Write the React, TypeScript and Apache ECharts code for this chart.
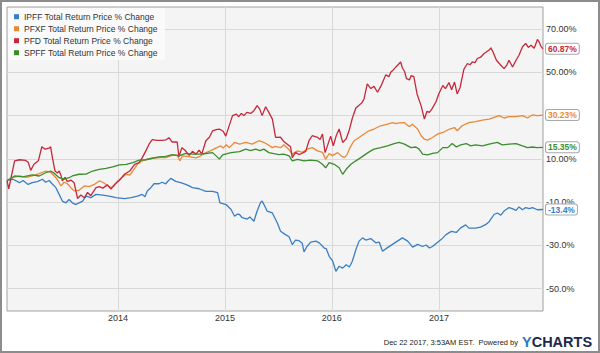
import React, { useEffect, useRef } from "react";
import * as echarts from "echarts";

const seriesNames = [
  "IPFF Total Return Price % Change",
  "PFXF Total Return Price % Change",
  "PFD Total Return Price % Change",
  "SPFF Total Return Price % Change",
];
const seriesColors = ["#3a7ec4", "#ea8935", "#c6283a", "#3b8c2c"];
const endLabels = ["-13.4%", "30.23%", "60.87%", "15.35%"];

const yTicks = [70, 50, 30, 10, -10, -30, -50];
const yTickLabels = ["70.00%", "50.00%", "", "10.00%", "-10.0%", "-30.0%", "-50.0%"];
const yearTicks = ["2014-01-01", "2015-01-01", "2016-01-01", "2017-01-01"];
const yearLabels = ["2014", "2015", "2016", "2017"];
const dateStart = "2012-12-18";
const dateEnd = "2017-12-22";

const ipffData: [string, number][] = [
  ["2012-12-18", 0], ["2013-01-07", 0.6], ["2013-01-30", -1.0], ["2013-02-11", 0.0], ["2013-02-28", -1.8],
  ["2013-03-14", -1.0], ["2013-04-01", -0.5], ["2013-04-18", 0.6], ["2013-04-29", -0.8], ["2013-05-11", 0.0],
  ["2013-05-21", -1.5], ["2013-06-03", -3.3], ["2013-06-14", -6.4], ["2013-06-25", -9.5], ["2013-07-07", -10.3],
  ["2013-07-18", -8.8], ["2013-07-29", -10.3], ["2013-08-10", -11.1], ["2013-08-21", -10.3], ["2013-09-02", -9.5],
  ["2013-09-14", -7.2], ["2013-09-30", -7.9], ["2013-10-18", -6.4], ["2013-11-10", -6.7], ["2013-12-02", -7.2],
  ["2013-12-25", -7.9], ["2014-01-23", -8.4], ["2014-02-15", -7.9], ["2014-03-08", -7.2], ["2014-03-25", -6.4],
  ["2014-04-03", -7.5], ["2014-04-11", -4.8], ["2014-04-23", -3.3], ["2014-05-04", -1.5], ["2014-05-21", -1.5],
  ["2014-05-31", -0.8], ["2014-06-13", -1.5], ["2014-06-21", -0.2], ["2014-06-30", 1.0], ["2014-07-17", -0.4],
  ["2014-08-03", -1.0], ["2014-08-20", -1.8], ["2014-09-01", -2.5], ["2014-09-12", -3.3], ["2014-10-05", -3.8],
  ["2014-10-28", -5.0], ["2014-11-09", -5.0], ["2014-11-20", -5.0], ["2014-12-07", -5.6], ["2014-12-15", -10.3],
  ["2015-01-05", -11.1], ["2015-01-22", -13.4], ["2015-02-03", -16.5], ["2015-02-13", -15.5], ["2015-02-20", -15.7],
  ["2015-03-01", -17.2], ["2015-03-18", -17.8], ["2015-03-27", -16.8], ["2015-04-10", -18.8], ["2015-04-21", -14.1],
  ["2015-05-03", -10.0], ["2015-05-08", -9.5], ["2015-05-14", -11.0], ["2015-05-25", -14.1], ["2015-06-12", -15.0],
  ["2015-06-29", -19.6], ["2015-07-10", -23.4], ["2015-07-27", -25.0], ["2015-08-08", -26.0], ["2015-08-19", -29.6],
  ["2015-08-30", -27.5], ["2015-09-11", -27.8], ["2015-09-22", -29.0], ["2015-09-28", -33.0], ["2015-10-08", -30.5],
  ["2015-10-21", -28.5], ["2015-11-08", -28.0], ["2015-11-19", -28.8], ["2015-12-06", -31.2], ["2015-12-13", -31.5],
  ["2015-12-23", -35.0], ["2016-01-04", -37.3], ["2016-01-15", -42.0], ["2016-01-26", -39.6], ["2016-02-07", -40.5],
  ["2016-02-19", -38.9], ["2016-03-01", -40.0], ["2016-03-11", -37.3], ["2016-03-23", -32.0], ["2016-04-03", -28.0],
  ["2016-04-15", -26.5], ["2016-04-26", -27.5], ["2016-05-13", -26.8], ["2016-05-30", -28.8], ["2016-06-11", -28.5],
  ["2016-06-22", -32.7], ["2016-07-09", -31.0], ["2016-07-26", -29.5], ["2016-08-12", -28.0], ["2016-08-29", -26.5],
  ["2016-09-16", -28.0], ["2016-10-03", -30.8], ["2016-10-20", -29.5], ["2016-11-06", -30.5], ["2016-11-18", -29.8],
  ["2016-11-29", -31.2], ["2016-12-10", -30.5], ["2016-12-23", -29.0], ["2017-01-08", -27.3], ["2017-01-25", -25.0],
  ["2017-02-12", -23.5], ["2017-03-01", -24.0], ["2017-03-16", -21.9], ["2017-04-02", -20.5], ["2017-04-13", -22.0],
  ["2017-05-06", -22.0], ["2017-05-23", -21.5], ["2017-06-10", -20.3], ["2017-06-21", -19.0], ["2017-07-08", -15.7],
  ["2017-07-19", -15.0], ["2017-07-31", -16.0], ["2017-08-11", -14.1], ["2017-08-28", -12.5], ["2017-09-08", -13.0],
  ["2017-09-21", -13.8], ["2017-10-01", -12.2], ["2017-10-13", -13.5], ["2017-10-24", -12.5], ["2017-11-05", -13.0],
  ["2017-11-16", -12.5], ["2017-12-03", -13.5], ["2017-12-22", -13.4],
];

const pfxfData: [string, number][] = [
  ["2012-12-18", 0], ["2013-01-07", 1.3], ["2013-01-30", 2.1], ["2013-02-22", 1.5], ["2013-03-14", 2.1],
  ["2013-04-07", 3.2], ["2013-04-29", 4.4], ["2013-05-16", 3.8], ["2013-06-03", 1.3], ["2013-06-14", -1.0],
  ["2013-06-20", -2.5], ["2013-07-01", -0.8], ["2013-07-12", -1.5], ["2013-07-24", -3.3], ["2013-08-04", -4.8],
  ["2013-08-21", -4.5], ["2013-09-08", -2.5], ["2013-09-25", -2.8], ["2013-10-12", -1.8], ["2013-10-29", -0.2],
  ["2013-11-10", -0.8], ["2013-11-21", -1.8], ["2013-12-08", -3.3], ["2013-12-19", -2.5], ["2013-12-31", -0.2],
  ["2014-01-15", 1.5], ["2014-01-29", 2.9], ["2014-02-10", 2.5], ["2014-02-21", 4.4], ["2014-03-08", 7.5],
  ["2014-03-25", 9.1], ["2014-04-10", 9.8], ["2014-04-28", 10.3], ["2014-05-21", 10.6], ["2014-06-13", 10.6],
  ["2014-07-05", 11.6], ["2014-07-22", 11.8], ["2014-07-31", 9.1], ["2014-08-09", 11.4], ["2014-09-01", 11.0],
  ["2014-09-24", 10.5], ["2014-10-05", 11.0], ["2014-10-28", 12.9], ["2014-11-14", 13.8], ["2014-12-01", 15.0],
  ["2014-12-18", 16.0], ["2014-12-26", 15.0], ["2015-01-05", 16.5], ["2015-01-16", 15.2], ["2015-02-03", 17.6],
  ["2015-02-20", 16.8], ["2015-03-13", 17.6], ["2015-04-04", 16.8], ["2015-04-27", 18.4], ["2015-05-14", 17.6],
  ["2015-05-25", 16.8], ["2015-06-12", 15.2], ["2015-06-21", 15.8], ["2015-07-10", 15.2], ["2015-07-21", 16.5],
  ["2015-08-08", 14.2], ["2015-08-19", 12.2], ["2015-09-06", 13.7], ["2015-09-22", 13.0], ["2015-10-09", 14.5],
  ["2015-10-26", 15.2], ["2015-11-13", 13.7], ["2015-11-30", 13.0], ["2015-12-11", 9.9], ["2015-12-23", 12.5],
  ["2016-01-03", 11.5], ["2016-01-21", 12.9], ["2016-02-02", 11.4], ["2016-02-13", 10.6], ["2016-02-22", 12.0],
  ["2016-03-03", 15.2], ["2016-03-17", 18.4], ["2016-04-03", 19.9], ["2016-04-20", 21.5], ["2016-05-07", 23.0],
  ["2016-05-24", 23.8], ["2016-06-16", 25.3], ["2016-07-09", 26.1], ["2016-07-26", 26.8], ["2016-08-08", 26.3],
  ["2016-08-18", 26.6], ["2016-09-05", 26.8], ["2016-09-15", 25.5], ["2016-09-22", 25.0], ["2016-10-02", 26.0],
  ["2016-10-20", 23.8], ["2016-11-01", 20.7], ["2016-11-12", 19.1], ["2016-11-23", 18.7], ["2016-12-10", 19.9],
  ["2016-12-27", 21.5], ["2017-01-14", 22.2], ["2017-02-06", 23.8], ["2017-02-23", 24.5], ["2017-03-04", 23.0],
  ["2017-03-21", 25.3], ["2017-04-13", 26.8], ["2017-05-06", 27.2], ["2017-05-29", 27.9], ["2017-06-21", 28.4],
  ["2017-07-08", 29.2], ["2017-07-25", 30.0], ["2017-08-11", 28.9], ["2017-08-28", 29.5], ["2017-09-21", 29.5],
  ["2017-10-13", 30.0], ["2017-10-30", 28.9], ["2017-11-16", 30.3], ["2017-12-03", 30.0], ["2017-12-22", 30.23],
];

const pfdData: [string, number][] = [
  ["2012-12-18", 0], ["2012-12-24", -3.8], ["2013-01-13", 9.1], ["2013-01-30", 9.6], ["2013-02-20", 9.3],
  ["2013-03-01", 8.3], ["2013-03-09", 4.7], ["2013-03-20", 7.5], ["2013-04-04", 9.1], ["2013-04-16", 15.6],
  ["2013-04-27", 14.5], ["2013-05-11", 15.0], ["2013-05-16", 15.6], ["2013-05-22", 10.6], ["2013-05-31", 4.4],
  ["2013-06-08", 3.5], ["2013-06-14", 4.4], ["2013-06-20", 2.5], ["2013-06-25", -0.2], ["2013-07-04", 1.5],
  ["2013-07-12", -0.5], ["2013-07-24", 0.2], ["2013-08-04", -1.0], ["2013-08-16", -8.3], ["2013-08-27", -6.7],
  ["2013-09-08", -8.0], ["2013-09-19", -5.5], ["2013-09-30", -7.0], ["2013-10-18", -3.3], ["2013-10-29", -2.8],
  ["2013-11-10", -3.5], ["2013-11-26", -2.0], ["2013-12-08", -4.0], ["2013-12-19", -2.0], ["2014-01-06", 0.1],
  ["2014-01-23", 2.9], ["2014-02-10", 4.4], ["2014-02-27", 7.5], ["2014-03-14", 8.3], ["2014-03-25", 10.6],
  ["2014-04-06", 13.7], ["2014-04-17", 16.8], ["2014-04-28", 18.9], ["2014-05-14", 18.6], ["2014-05-31", 18.6],
  ["2014-06-14", 18.8], ["2014-06-24", 19.8], ["2014-07-05", 17.8], ["2014-07-22", 17.8], ["2014-07-28", 11.0],
  ["2014-08-07", 15.2], ["2014-08-18", 14.0], ["2014-09-01", 11.6], ["2014-09-12", 13.5], ["2014-09-24", 12.2],
  ["2014-10-05", 14.0], ["2014-10-14", 12.2], ["2014-10-28", 18.4], ["2014-11-09", 20.0], ["2014-11-20", 23.0],
  ["2014-12-02", 23.5], ["2014-12-13", 23.8], ["2014-12-26", 22.8], ["2015-01-04", 20.5], ["2015-01-16", 25.5],
  ["2015-01-27", 30.0], ["2015-02-09", 30.7], ["2015-02-17", 29.5], ["2015-02-26", 31.0], ["2015-03-07", 30.0],
  ["2015-03-17", 31.5], ["2015-03-30", 31.0], ["2015-04-10", 32.3], ["2015-04-21", 34.6], ["2015-04-30", 33.0],
  ["2015-05-08", 30.0], ["2015-05-20", 34.1], ["2015-05-31", 31.5], ["2015-06-12", 28.4], ["2015-06-23", 19.9],
  ["2015-07-10", 20.0], ["2015-07-21", 18.0], ["2015-08-02", 16.8], ["2015-08-13", 15.6], ["2015-08-19", 10.6],
  ["2015-08-30", 13.0], ["2015-09-11", 12.0], ["2015-09-22", 12.6], ["2015-10-04", 13.5], ["2015-10-15", 18.4],
  ["2015-10-26", 20.7], ["2015-11-13", 20.0], ["2015-11-22", 19.0], ["2015-11-30", 21.5], ["2015-12-09", 12.9],
  ["2015-12-17", 16.0], ["2015-12-28", 20.5], ["2016-01-06", 16.0], ["2016-01-16", 20.7], ["2016-01-26", 23.8],
  ["2016-02-07", 17.6], ["2016-02-19", 19.3], ["2016-03-01", 23.5], ["2016-03-11", 28.8], ["2016-03-23", 33.5],
  ["2016-04-03", 34.8], ["2016-04-13", 36.0], ["2016-04-20", 37.7], ["2016-05-01", 44.7], ["2016-05-13", 42.5],
  ["2016-05-24", 43.5], ["2016-06-05", 40.8], ["2016-06-16", 43.5], ["2016-07-03", 48.8], ["2016-07-14", 48.0],
  ["2016-07-20", 50.0], ["2016-07-28", 51.0], ["2016-08-07", 52.5], ["2016-08-18", 54.1], ["2016-08-23", 54.8],
  ["2016-08-29", 52.0], ["2016-09-05", 50.5], ["2016-09-12", 47.1], ["2016-09-22", 46.5], ["2016-09-28", 48.5],
  ["2016-10-07", 48.0], ["2016-10-18", 40.0], ["2016-11-01", 34.5], ["2016-11-12", 28.4], ["2016-11-21", 32.0],
  ["2016-11-29", 31.5], ["2016-12-08", 33.1], ["2016-12-22", 36.5], ["2016-12-31", 40.0], ["2017-01-14", 43.9],
  ["2017-01-23", 42.5], ["2017-02-04", 45.3], ["2017-02-13", 42.0], ["2017-02-23", 45.5], ["2017-03-04", 40.0],
  ["2017-03-14", 43.0], ["2017-03-27", 51.5], ["2017-04-08", 54.1], ["2017-04-17", 53.5], ["2017-04-25", 54.8],
  ["2017-05-04", 54.5], ["2017-05-12", 56.4], ["2017-05-23", 57.0], ["2017-06-04", 58.7], ["2017-06-21", 60.3],
  ["2017-06-27", 61.3], ["2017-07-04", 59.5], ["2017-07-16", 55.6], ["2017-07-31", 53.3], ["2017-08-11", 51.7],
  ["2017-08-21", 53.5], ["2017-08-28", 55.6], ["2017-09-09", 52.5], ["2017-09-21", 55.6], ["2017-10-01", 57.9],
  ["2017-10-13", 61.8], ["2017-10-24", 63.4], ["2017-11-02", 61.5], ["2017-11-11", 62.5], ["2017-11-22", 61.1],
  ["2017-12-03", 65.2], ["2017-12-09", 64.0], ["2017-12-15", 62.0], ["2017-12-22", 60.87],
];

const spffData: [string, number][] = [
  ["2012-12-18", 0], ["2013-01-13", 2.1], ["2013-02-10", 1.7], ["2013-03-14", 2.6], ["2013-04-07", 2.1],
  ["2013-04-29", 3.6], ["2013-05-16", 4.4], ["2013-05-28", 3.4], ["2013-06-14", 1.3], ["2013-07-01", 0.6],
  ["2013-07-18", 1.3], ["2013-07-29", 2.1], ["2013-08-21", 2.9], ["2013-09-14", 3.0], ["2013-10-06", 4.4],
  ["2013-10-29", 5.2], ["2013-11-21", 5.6], ["2013-12-14", 6.3], ["2014-01-06", 7.2], ["2014-01-29", 7.5],
  ["2014-02-21", 8.3], ["2014-03-14", 9.4], ["2014-04-06", 9.6], ["2014-04-28", 10.3], ["2014-05-21", 10.9],
  ["2014-06-13", 11.2], ["2014-07-05", 12.0], ["2014-07-28", 11.4], ["2014-08-20", 12.5], ["2014-09-12", 12.2],
  ["2014-10-05", 12.2], ["2014-10-28", 12.5], ["2014-11-20", 12.9], ["2014-12-01", 11.5], ["2014-12-13", 9.9],
  ["2014-12-24", 11.8], ["2015-01-22", 12.9], ["2015-02-20", 13.4], ["2015-03-13", 14.5], ["2015-03-30", 13.8],
  ["2015-04-16", 14.5], ["2015-04-30", 13.8], ["2015-05-14", 14.5], ["2015-05-31", 12.9], ["2015-06-17", 12.4],
  ["2015-07-04", 12.0], ["2015-07-21", 12.2], ["2015-08-08", 11.4], ["2015-08-19", 9.1], ["2015-09-06", 9.8],
  ["2015-09-28", 9.1], ["2015-10-21", 9.4], ["2015-11-13", 9.1], ["2015-11-30", 7.5], ["2015-12-11", 5.9],
  ["2015-12-23", 8.3], ["2016-01-09", 7.5], ["2016-01-26", 5.9], ["2016-02-07", 2.9], ["2016-02-19", 5.2],
  ["2016-03-06", 7.5], ["2016-03-23", 9.1], ["2016-04-09", 10.6], ["2016-04-26", 12.2], ["2016-05-13", 13.7],
  ["2016-05-24", 14.5], ["2016-06-16", 15.2], ["2016-07-09", 16.0], ["2016-08-01", 17.1], ["2016-08-18", 17.6],
  ["2016-09-05", 16.8], ["2016-09-27", 15.2], ["2016-10-14", 15.5], ["2016-10-25", 14.5], ["2016-11-06", 12.2],
  ["2016-11-23", 11.9], ["2016-12-10", 12.5], ["2016-12-27", 12.9], ["2017-01-14", 15.2], ["2017-01-31", 15.2],
  ["2017-02-15", 17.1], ["2017-03-01", 15.5], ["2017-03-16", 16.5], ["2017-04-04", 17.1], ["2017-04-19", 16.0],
  ["2017-05-06", 16.5], ["2017-05-29", 16.0], ["2017-06-21", 16.8], ["2017-07-19", 17.6], ["2017-08-05", 16.5],
  ["2017-08-28", 16.8], ["2017-09-21", 17.1], ["2017-10-13", 16.0], ["2017-10-30", 15.2], ["2017-11-16", 15.5],
  ["2017-12-02", 15.2], ["2017-12-22", 15.35],
];

const seriesData = [ipffData, pfxfData, pfdData, spffData];

const FONT = "'Liberation Sans', Arial, sans-serif";

export default function App() {
  const ref = useRef<HTMLDivElement>(null);

  useEffect(() => {
    if (!ref.current) return;
    const chart = echarts.init(ref.current, null, { renderer: "svg" });
    const t = (s: string) => +echarts.time.parse(s);

    const lineSeries = seriesNames.map((name, i) => ({
      name,
      type: "line",
      data: seriesData[i],
      showSymbol: false,
      symbol: "none",
      z: 5,
      lineStyle: { color: seriesColors[i], width: 1.3 },
      itemStyle: { color: seriesColors[i] },
      endLabel: {
        show: true,
        formatter: endLabels[i],
        distance: 3,
        color: seriesColors[i],
        fontFamily: FONT,
        fontSize: 8.5,
        fontWeight: "bold",
        backgroundColor: "#ffffff",
        borderColor: "#a8a8a8",
        borderWidth: 1,
        borderRadius: 2,
        padding: [1, 2, 0, 2],
      },
    }));

    const gridSeries = {
      name: "__grid",
      type: "line",
      data: [],
      z: 1,
      silent: true,
      markLine: {
        silent: true,
        symbol: "none",
        animation: false,
        lineStyle: { color: "#d9d9d9", width: 1, type: "solid" },
        data: [
          ...yTicks.map((v, i) => ({
            yAxis: v,
            label: {
              show: true,
              position: "end",
              distance: 3,
              formatter: yTickLabels[i],
              color: "#333",
              fontFamily: FONT,
              fontSize: 9,
            },
          })),
          ...yearTicks.map((d, i) => ({
            xAxis: t(d),
            label: {
              show: true,
              position: "start",
              distance: 2,
              formatter: yearLabels[i],
              color: "#333",
              fontFamily: FONT,
              fontSize: 9,
            },
          })),
        ],
      },
    };

    chart.setOption({
      animation: false,
      backgroundColor: "#ffffff",
      grid: {
        left: 7,
        right: 57,
        top: 7,
        bottom: 42,
        show: true,
        backgroundColor: "#f4f4f4",
        borderColor: "#a0a0a0",
        borderWidth: 1,
      },
      xAxis: {
        type: "time",
        min: t(dateStart),
        max: t(dateEnd),
        show: false,
      },
      yAxis: {
        type: "value",
        min: -60.3,
        max: 80.2,
        show: false,
      },
      legend: {
        data: seriesNames,
        orient: "vertical",
        left: 14,
        top: 10.7,
        padding: 0,
        itemGap: 0,
        itemWidth: 5,
        itemHeight: 5,
        icon: "rect",
        z: 10,
        textStyle: { fontFamily: FONT, fontSize: 8.5, color: "#333", lineHeight: 12 },
      },
      graphic: [
        {
          type: "rect",
          z: 8,
          silent: true,
          shape: { x: 8, y: 8, width: 157, height: 52 },
          style: { fill: "rgba(250,250,250,0.92)" },
        },
        {
          type: "rect",
          z: 20,
          silent: true,
          shape: { x: 1, y: 1, width: 598, height: 351 },
          style: { fill: "none", stroke: "#8c8c8c", lineWidth: 2 },
        },
        {
          type: "text",
          z: 20,
          x: 518,
          y: 342,
          style: {
            text: "Dec 22 2017, 3:53AM EST.  Powered by",
            fill: "#222",
            fontFamily: FONT,
            fontSize: 7.5,
            textAlign: "right",
            textVerticalAlign: "middle",
          },
        },
        {
          type: "text",
          z: 20,
          x: 522,
          y: 342,
          style: {
            text: "{y|Y}{c|CHARTS}",
            fontFamily: FONT,
            fontSize: 14.5,
            fontWeight: "bold",
            textAlign: "left",
            textVerticalAlign: "middle",
            rich: {
              y: { fill: "#2a7bc0", fontSize: 14.5, fontWeight: "bold", fontFamily: FONT },
              c: { fill: "#1c2a4a", fontSize: 14.5, fontWeight: "bold", fontFamily: FONT },
            },
          },
        },
      ],
      series: [gridSeries, ...lineSeries],
    });

    return () => chart.dispose();
  }, []);

  return (
    <div
      ref={ref}
      style={{ position: "absolute", left: 0, top: 0, width: 600, height: 353, background: "#fff" }}
    />
  );
}
